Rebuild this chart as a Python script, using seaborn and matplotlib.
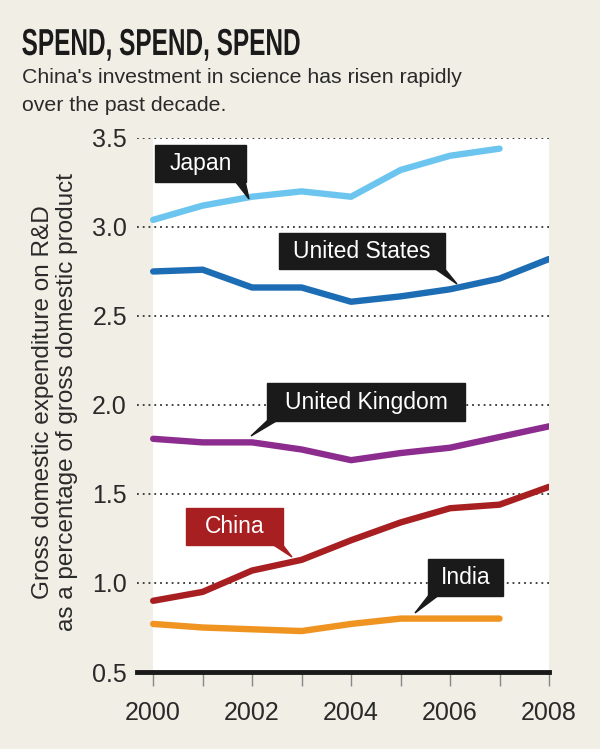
import matplotlib
matplotlib.use("Agg")
import matplotlib.pyplot as plt
import seaborn as sns
import pandas as pd
from matplotlib.patches import Polygon
from matplotlib.patheffects import AbstractPathEffect
from matplotlib.transforms import Affine2D

years = [2000, 2001, 2002, 2003, 2004, 2005, 2006, 2007, 2008]
japan = [3.04, 3.12, 3.17, 3.20, 3.17, 3.32, 3.40, 3.44, None]
united_states = [2.75, 2.76, 2.66, 2.66, 2.58, 2.61, 2.65, 2.71, 2.82]
united_kingdom = [1.81, 1.79, 1.79, 1.75, 1.69, 1.73, 1.76, 1.82, 1.88]
china = [0.90, 0.95, 1.07, 1.13, 1.24, 1.34, 1.42, 1.44, 1.54]
india = [0.77, 0.75, 0.74, 0.73, 0.77, 0.80, 0.80, 0.80, None]

y_ticks = [0.5, 1.0, 1.5, 2.0, 2.5, 3.0, 3.5]
x_ticklabels = ["2000", "", "2002", "", "2004", "", "2006", "", "2008"]

series = {
    "Japan": japan,
    "United States": united_states,
    "United Kingdom": united_kingdom,
    "China": china,
    "India": india,
}
colors = {
    "Japan": "#6cc5ee",
    "United States": "#1c6db4",
    "United Kingdom": "#8c2c8e",
    "China": "#a81f22",
    "India": "#ef9420",
}

rows = []
for name, vals in series.items():
    for yr, v in zip(years, vals):
        if v is not None:
            rows.append({"year": yr, "value": v, "country": name})
df = pd.DataFrame(rows)

BG = "#f0eee5"
sns.set_theme(style="white")
plt.rcParams["font.family"] = ["Liberation Sans", "DejaVu Sans"]


class Condense(AbstractPathEffect):
    """Squeeze text horizontally around a given display x."""
    def __init__(self, sx, x0):
        super().__init__()
        self.sx = sx
        self.x0 = x0

    def draw_path(self, renderer, gc, tpath, affine, rgbFace=None):
        aff = affine + Affine2D().translate(-self.x0, 0).scale(self.sx, 1).translate(self.x0, 0)
        renderer.draw_path(gc, tpath, aff, rgbFace)


fig = plt.figure(figsize=(6, 7.49), dpi=100, facecolor=BG)
ax = fig.add_axes([0.2278, 0.1028, 0.915 - 0.2278, 0.8158 - 0.1028])
ax.set_facecolor("none")
ax.set_xlim(1999.667, 2008)
ax.set_ylim(0.5, 3.5)

ax.axvspan(2000, 2008, ymin=0, ymax=1, color="white", zorder=0, lw=0)

for yv in y_ticks[1:]:
    ax.axhline(yv, color="#333333", lw=1.3, ls=(0, (1, 2.2)), zorder=1)

sns.lineplot(data=df, x="year", y="value", hue="country", palette=colors,
             lw=4.6, ax=ax, legend=False, zorder=3, solid_capstyle="round")

for s in ["top", "right", "left"]:
    ax.spines[s].set_visible(False)
ax.spines["bottom"].set_color("#1a1a1a")
ax.spines["bottom"].set_linewidth(3.5)
ax.spines["bottom"].set_zorder(4)

ax.set_xticks(years)
ax.set_xticklabels(x_ticklabels)
ax.set_yticks(y_ticks)
ax.set_yticklabels([f"{v:.1f}" for v in y_ticks])
ax.tick_params(axis="x", bottom=True, length=10, width=1, color="#888888",
               labelsize=18, pad=11, labelcolor="#2a2a2a")
ax.tick_params(axis="y", left=False, length=0, labelsize=18, pad=7,
               labelcolor="#2a2a2a")
ax.set_xlabel("")
ax.set_ylabel("")

fig.text(0.092, 0.463, "Gross domestic expenditure on R&D\nas a percentage of gross domestic product",
         rotation=90, ha="center", va="center", fontsize=17.5, color="#2a2a2a",
         linespacing=1.15, multialignment="center")

title_x = 0.036
fig.text(title_x, 0.9266, "SPEND, SPEND, SPEND", fontsize=27, fontweight="bold",
         color="#1a1a1a", ha="left", va="baseline",
         path_effects=[Condense(0.65, title_x * 600)])
fig.text(0.036, 0.889, "China's investment in science has risen rapidly",
         fontsize=15.3, color="#2a2a2a", ha="left", va="baseline")
fig.text(0.036, 0.852, "over the past decade.",
         fontsize=15.3, color="#2a2a2a", ha="left", va="baseline")

# label boxes (pixel coords converted to figure fraction)
W, H = 600, 749
def px(x, y):
    return (x / W, 1 - y / H)

def label(text, box, tip, color, side):
    x0, y0, x1, y1 = box
    fig.patches.append(plt.Rectangle(px(x0, y1), (x1 - x0) / W, (y1 - y0) / H,
                                     transform=fig.transFigure, color=color, zorder=5))
    if side == "right":
        tri = [px(x1 - 11, y1 - 1), px(x1 - 1, y1 - 1), tip]
    else:
        tri = [px(x0 + 1, y1 - 1), px(x0 + 11, y1 - 1), tip]
    fig.patches.append(Polygon(tri, closed=True, transform=fig.transFigure,
                               color=color, zorder=5))
    cx, cy = px((x0 + x1) / 2, (y0 + y1) / 2)
    fig.text(cx, cy, text, color="white", fontsize=16.5, ha="center", va="center",
             zorder=6)

label("Japan", (155, 145, 246, 182), px(249, 199), "#1a1a1a", "right")
label("United States", (279, 233, 445, 269), px(457, 284), "#1a1a1a", "right")
label("United Kingdom", (267, 383, 465, 421), px(251, 436), "#1a1a1a", "left")
label("China", (186, 508, 283, 545), px(292, 557), "#a81f22", "right")
label("India", (428, 559, 503, 596), px(415, 613), "#1a1a1a", "left")

fig.savefig("out.png", dpi=100, facecolor=BG)
